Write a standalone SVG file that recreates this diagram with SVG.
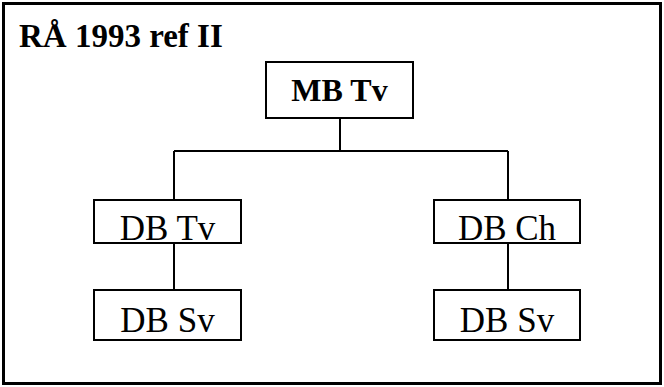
<svg xmlns="http://www.w3.org/2000/svg" width="664" height="387" viewBox="0 0 664 387">
  <style>
    .box { fill: #fff; stroke: #000; stroke-width: 2; }
    .lbl { font-family: "Liberation Serif", "Times New Roman", serif; font-size: 35px; fill: #000; text-anchor: middle; }
    .bold { font-weight: bold; font-size: 32px; }
    .wire { fill: none; stroke: #000; stroke-width: 2; }
  </style>
  <!-- frame -->
  <rect x="3.5" y="3.5" width="657" height="380" fill="#fff" stroke="#000" stroke-width="3"/>
  <text x="19" y="47" font-family="'Liberation Serif', 'Times New Roman', serif" font-size="33" font-weight="bold">RÅ 1993 ref II</text>
  <g id="connectors">
    <path class="wire" d="M340 118 V151 M174 151 H508 M174 151 V200 M508 151 V200"/>
    <path class="wire" d="M174 243 V290 M508 243 V290"/>
  </g>
  <g id="mb-tv">
    <rect class="box" x="266" y="62" width="147" height="56"/>
    <text class="lbl bold" x="339.5" y="101">MB Tv</text>
  </g>
  <g id="db-tv">
    <rect class="box" x="94" y="200" width="147" height="43"/>
    <text class="lbl" x="167.5" y="240">DB Tv</text>
  </g>
  <g id="db-ch">
    <rect class="box" x="434" y="200" width="146" height="43"/>
    <text class="lbl" x="507" y="240">DB Ch</text>
  </g>
  <g id="db-sv-left">
    <rect class="box" x="94" y="290" width="147" height="50"/>
    <text class="lbl" x="167.5" y="332">DB Sv</text>
  </g>
  <g id="db-sv-right">
    <rect class="box" x="434" y="290" width="146" height="50"/>
    <text class="lbl" x="507" y="332">DB Sv</text>
  </g>
</svg>
